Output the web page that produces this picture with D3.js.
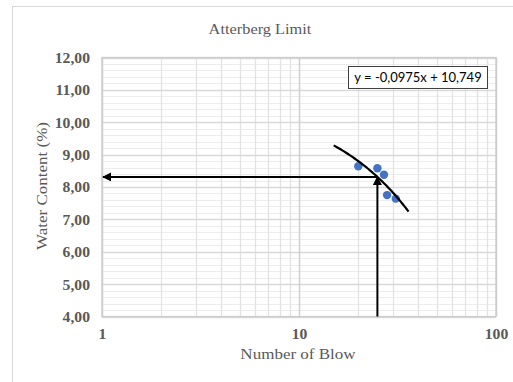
<!DOCTYPE html>
<html>
<head>
<meta charset="utf-8">
<script src="https://cdn.jsdelivr.net/npm/d3@7"></script>
<style>
  body { margin: 0; background: #fff; }
  text { font-family: "Liberation Serif", "Times New Roman", serif; fill: #595959; }
  .tick text { font-size: 14px; font-weight: bold; }
</style>
</head>
<body>
<script>
// data
var blows = [20, 25, 27, 28, 31];
var water = [8.64, 8.58, 8.38, 7.75, 7.64];
var xTicks = [1, 10, 100];
var yTicks = [4, 5, 6, 7, 8, 9, 10, 11, 12];
var trendSlope = -0.0975;
var trendIntercept = 10.749;
var trendFrom = 15, trendTo = 36;
var targetBlow = 25;

var W = 513, H = 382;
var margin = { top: 57.5, right: 17, bottom: 65.5, left: 102 };
var stretch = 1.12; // reference text looks a bit wide

var svg = d3.select('body').append('svg')
  .attr('width', W)
  .attr('height', H);

// chart area border (cropped on right/bottom)
svg.append('rect')
  .attr('x', 12.5).attr('y', 6.5)
  .attr('width', 540).attr('height', 420)
  .attr('fill', 'none').attr('stroke', '#d9d9d9');

var x = d3.scaleLog().domain([1, 100]).range([margin.left, W - margin.right]);
var y = d3.scaleLinear().domain([4, 12]).range([H - margin.bottom, margin.top]);

var g = svg.append('g');

// minor horizontal grid
var yMinor = d3.range(4, 12.001, 0.2).filter(function (d) { return Math.abs(d - Math.round(d)) > 0.01; });
g.selectAll('.hminor').data(yMinor).enter().append('line')
  .attr('x1', x(1)).attr('x2', x(100))
  .attr('y1', function (d) { return Math.round(y(d)) + 0.5; })
  .attr('y2', function (d) { return Math.round(y(d)) + 0.5; })
  .attr('stroke', '#ededed');

// minor vertical grid
var xMinor = [];
[1, 10].forEach(function (dec) {
  for (var k = 2; k <= 9; k++) xMinor.push(dec * k);
});
g.selectAll('.vminor').data(xMinor).enter().append('line')
  .attr('x1', function (d) { return Math.round(x(d)) + 0.5; })
  .attr('x2', function (d) { return Math.round(x(d)) + 0.5; })
  .attr('y1', y(12)).attr('y2', y(4))
  .attr('stroke', '#e3e3e3').attr('stroke-width', 1.3);

// major grid
g.selectAll('.hmajor').data(yTicks).enter().append('line')
  .attr('x1', x(1)).attr('x2', x(100))
  .attr('y1', function (d) { return Math.round(y(d)) + 0.5; })
  .attr('y2', function (d) { return Math.round(y(d)) + 0.5; })
  .attr('stroke', '#d9d9d9').attr('stroke-width', 1.3);
g.selectAll('.vmajor').data(xTicks).enter().append('line')
  .attr('x1', function (d) { return Math.round(x(d)) + 0.5; })
  .attr('x2', function (d) { return Math.round(x(d)) + 0.5; })
  .attr('y1', y(12)).attr('y2', y(4))
  .attr('stroke', '#cfcfcf').attr('stroke-width', 1.5);

// plot border
g.append('rect')
  .attr('x', x(1)).attr('y', y(12))
  .attr('width', x(100) - x(1)).attr('height', y(4) - y(12))
  .attr('fill', 'none').attr('stroke', '#cccccc').attr('stroke-width', 1.3);

// axes
var xAxis = d3.axisBottom(x).tickValues(xTicks).tickSize(0).tickFormat(d3.format('d'));
var yAxis = d3.axisLeft(y).tickValues(yTicks).tickSize(0)
  .tickFormat(function (d) { return d3.format('.2f')(d).replace('.', ','); });

var gx = svg.append('g').attr('transform', 'translate(0,' + y(4) + ')').call(xAxis)
  .attr('font-size', null).attr('font-family', null);
gx.select('.domain').remove();
gx.selectAll('text').attr('dy', null).attr('y', 23)
  .attr('transform', 'scale(' + stretch + ',1)').attr('fill', '#595959');

var gy = svg.append('g').attr('transform', 'translate(' + x(1) + ',0)').call(yAxis)
  .attr('font-size', null).attr('font-family', null);
gy.select('.domain').remove();
gy.selectAll('text').attr('x', -12 / stretch).attr('dy', '0.35em')
  .attr('transform', 'scale(' + stretch + ',1)').attr('fill', '#595959');

// titles
svg.append('text').attr('transform', 'translate(260,34) scale(' + stretch + ',1)').attr('text-anchor', 'middle')
  .style('font-size', '14.6px').text('Atterberg Limit');
svg.append('text').attr('transform', 'translate(298,359) scale(' + stretch + ',1)').attr('text-anchor', 'middle')
  .style('font-size', '15.2px').text('Number of Blow');
svg.append('text').attr('transform', 'translate(47,186) rotate(-90) scale(' + stretch + ',1)').attr('text-anchor', 'middle')
  .style('font-size', '15.2px').text('Water Content (%)');

// arrows
var defs = svg.append('defs');
defs.append('marker').attr('id', 'arrow')
  .attr('viewBox', '0 0 10 10').attr('refX', 9).attr('refY', 5)
  .attr('markerWidth', 4.5).attr('markerHeight', 4.5).attr('markerUnits', 'strokeWidth')
  .attr('orient', 'auto')
  .append('path').attr('d', 'M0,0 L10,5 L0,10 z').attr('fill', '#000');

var targetW = trendSlope * targetBlow + trendIntercept;
svg.append('line')
  .attr('x1', x(targetBlow)).attr('y1', y(targetW))
  .attr('x2', x(1) + 1).attr('y2', y(targetW))
  .attr('stroke', '#000').attr('stroke-width', 2).attr('marker-end', 'url(#arrow)');
svg.append('line')
  .attr('x1', x(targetBlow)).attr('y1', y(4))
  .attr('x2', x(targetBlow)).attr('y2', y(targetW))
  .attr('stroke', '#000').attr('stroke-width', 2).attr('marker-end', 'url(#arrow)');

// points
svg.selectAll('.pt').data(blows).enter().append('circle')
  .attr('cx', function (d) { return x(d); })
  .attr('cy', function (d, i) { return y(water[i]); })
  .attr('r', 4.2).attr('fill', '#4472c4');

// linear trendline drawn on log axis
var trendX = d3.range(trendFrom, trendTo + 0.01, 0.25);
var line = d3.line()
  .x(function (d) { return x(d); })
  .y(function (d) { return y(trendSlope * d + trendIntercept); });
svg.append('path').datum(trendX).attr('d', line)
  .attr('fill', 'none').attr('stroke', '#000').attr('stroke-width', 2.2);

// equation label
svg.append('rect').attr('x', 348.5).attr('y', 66.5).attr('width', 139).attr('height', 22)
  .attr('fill', '#fff').attr('stroke', '#404040');
svg.append('text').attr('x', 418).attr('y', 82).attr('text-anchor', 'middle')
  .style('font-family', 'Lato, "Open Sans", sans-serif').style('font-size', '13px')
  .style('fill', '#000')
  .text('y = -0,0975x + 10,749');
</script>
</body>
</html>
